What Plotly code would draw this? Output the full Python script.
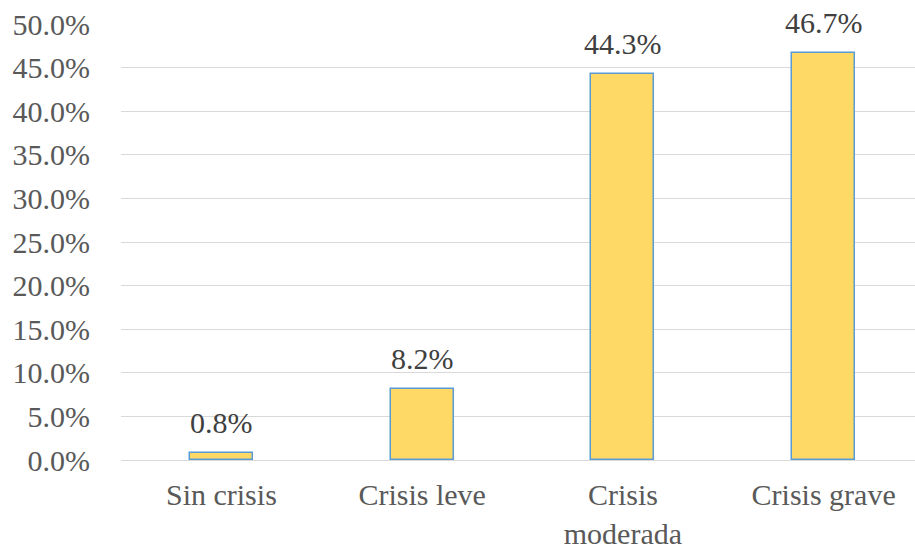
import plotly.graph_objects as go

categories = ["Sin crisis", "Crisis leve", "Crisis<br>moderada", "Crisis grave"]
values = [0.8, 8.2, 44.3, 46.7]
value_labels = ["0.8%", "8.2%", "44.3%", "46.7%"]
y_ticks = [0, 5, 10, 15, 20, 25, 30, 35, 40, 45, 50]
y_tick_labels = [f"{v:.1f}%" for v in y_ticks]

FONT = "'Liberation Serif', 'Times New Roman', Times, serif"

fig = go.Figure()
fig.add_trace(go.Bar(
    x=list(range(len(categories))),
    y=values,
    width=0.314,
    marker=dict(color="#FFD966", line=dict(color="#5B9BD5", width=1.5)),
    hoverinfo="skip",
))

# value labels above each bar
for i, (v, t) in enumerate(zip(values, value_labels)):
    fig.add_annotation(
        x=i, y=v, text=t, showarrow=False,
        yanchor="bottom", yshift=12,
        font=dict(family=FONT, size=30, color="#404040"),
    )

fig.update_layout(
    width=915, height=550,
    margin=dict(l=121, r=0, t=24, b=90),
    plot_bgcolor="white", paper_bgcolor="white",
    showlegend=False,
    font=dict(family=FONT, size=30, color="#595959"),
    bargap=0,
)
fig.update_xaxes(
    range=[-0.5, 3.455],
    tickmode="array",
    tickvals=list(range(len(categories))),
    ticktext=categories,
    showgrid=False,
    showline=True, linecolor="#D9D9D9", linewidth=1.3,
    ticks="",
    ticklabelstandoff=8,
    tickfont=dict(family=FONT, size=30, color="#595959"),
)
fig.update_yaxes(
    range=[0, 50],
    tickmode="array",
    tickvals=y_ticks,
    ticktext=y_tick_labels,
    showgrid=True, gridcolor="#D9D9D9", gridwidth=1.3,
    zeroline=False, showline=False,
    ticks="",
    ticklabelstandoff=30,
    tickfont=dict(family=FONT, size=30, color="#595959"),
)

fig.write_html("out.html")
